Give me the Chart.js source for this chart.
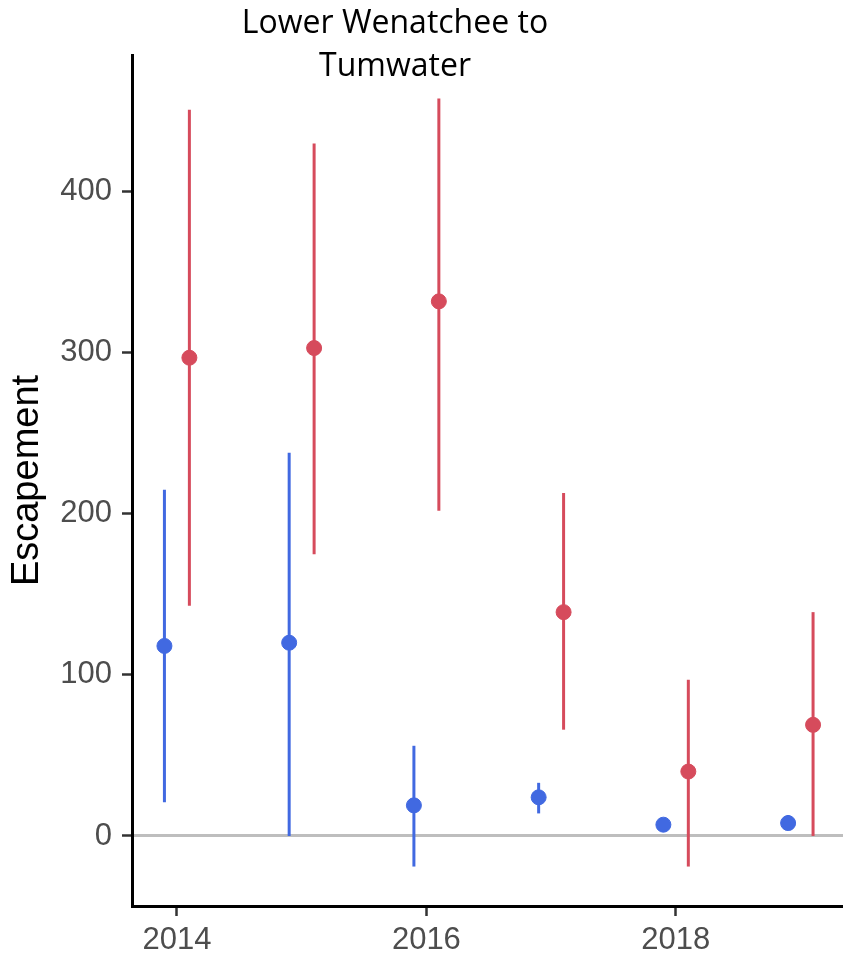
<!DOCTYPE html>
<html>
<head>
<meta charset="utf-8">
<script src="https://cdn.jsdelivr.net/npm/chart.js@4.4.0/dist/chart.umd.min.js"></script>
<style>
    body { margin: 0; background: #fff; }
    canvas { display: block; }
</style>
</head>
<body>
<canvas id="escChart" width="843" height="954"></canvas>
<script>
// run years and tick values
const years = [2014, 2015, 2016, 2017, 2018, 2019];
const xTicks = [2014, 2016, 2018];
const yTicks = [0, 100, 200, 300, 400];

// blue group: estimate with lower / upper bounds
const blueMean = [118, 120, 19, 24, 7, 8];
const blueLow = [21, 0, -19, 14, 6, 4];
const blueHigh = [215, 238, 56, 33, 8, 13];

// red group
const redMean = [297, 303, 332, 139, 40, 69];
const redLow = [143, 175, 202, 66, -19, 0];
const redHigh = [451, 430, 458, 213, 97, 139];

const dodge = 0.1;
const blueColor = '#4169e1';
const redColor = '#d64b5c';

function toPoints(vals, shift) {
    return vals.map(function(v, i) { return { x: years[i] + shift, y: v }; });
}

// vertical range lines under each point
const rangeLines = {
    id: 'rangeLines',
    beforeDatasetsDraw: function(chart) {
        const ctx = chart.ctx;
        const xs = chart.scales.x;
        const ys = chart.scales.y;
        const area = chart.chartArea;
        const groups = [
            { low: blueLow, high: blueHigh, shift: -dodge, color: blueColor },
            { low: redLow, high: redHigh, shift: dodge, color: redColor }
        ];
        ctx.save();
        ctx.beginPath();
        ctx.rect(area.left, area.top, area.right - area.left, area.bottom - area.top);
        ctx.clip();
        ctx.lineWidth = 3;
        groups.forEach(function(g) {
            ctx.strokeStyle = g.color;
            years.forEach(function(yr, i) {
                const px = xs.getPixelForValue(yr + g.shift);
                ctx.beginPath();
                ctx.moveTo(px, ys.getPixelForValue(g.low[i]));
                ctx.lineTo(px, ys.getPixelForValue(g.high[i]));
                ctx.stroke();
            });
        });
        ctx.restore();
    }
};

// two-line heading over the plot
const heading = {
    id: 'heading',
    afterDraw: function(chart) {
        const ctx = chart.ctx;
        ctx.save();
        ctx.fillStyle = '#000';
        ctx.font = '32px "Open Sans"';
        ctx.textAlign = 'center';
        ctx.textBaseline = 'middle';
        ctx.fillText('Lower Wenatchee to', 395, 24);
        ctx.fillText('Tumwater', 395, 67);
        ctx.restore();
    }
};

const tickFont = { family: '"Liberation Sans", Arial', size: 31 };

new Chart(document.getElementById('escChart').getContext('2d'), {
    type: 'scatter',
    data: {
        datasets: [{
            data: toPoints(blueMean, -dodge),
            backgroundColor: blueColor,
            borderColor: blueColor,
            pointRadius: 7.5,
            pointHoverRadius: 7.5
        }, {
            data: toPoints(redMean, dodge),
            backgroundColor: redColor,
            borderColor: redColor,
            pointRadius: 7.5,
            pointHoverRadius: 7.5
        }]
    },
    options: {
        responsive: false,
        animation: false,
        layout: { autoPadding: false, padding: { top: 55, left: 0, right: 0, bottom: 0 } },
        plugins: {
            legend: { display: false },
            tooltip: { enabled: false }
        },
        scales: {
            x: {
                type: 'linear',
                min: 2013.64,
                max: 2019.34,
                afterFit: function(scale) {
                    scale.height = 48;
                    scale.paddingLeft = 0;
                    scale.paddingRight = 0;
                },
                afterBuildTicks: function(scale) {
                    scale.ticks = xTicks.map(function(v) { return { value: v }; });
                },
                border: { display: true, color: '#000', width: 3 },
                grid: {
                    drawOnChartArea: false,
                    drawTicks: true,
                    tickLength: 10,
                    tickColor: '#333',
                    tickWidth: 2.5
                },
                ticks: {
                    color: '#4d4d4d',
                    font: tickFont,
                    padding: 6,
                    maxRotation: 0,
                    callback: function(v) { return String(v); }
                }
            },
            y: {
                min: -43.5,
                max: 485,
                afterFit: function(scale) { scale.width = 132; },
                afterBuildTicks: function(scale) {
                    scale.ticks = yTicks.map(function(v) { return { value: v }; });
                },
                border: { display: true, color: '#000', width: 3 },
                grid: {
                    color: function(c) { return c.tick && c.tick.value === 0 ? '#bebebe' : 'rgba(0,0,0,0)'; },
                    lineWidth: 3,
                    tickLength: 10,
                    tickColor: '#333',
                    tickWidth: 2.5
                },
                ticks: {
                    color: '#4d4d4d',
                    font: tickFont,
                    padding: 10,
                    callback: function(v) { return String(v); }
                },
                title: {
                    display: true,
                    text: 'Escapement',
                    color: '#000',
                    font: { family: '"Liberation Sans", Arial', size: 38 },
                    padding: { top: 5, bottom: 0 }
                }
            }
        }
    },
    plugins: [rangeLines, heading]
});
</script>
</body>
</html>
